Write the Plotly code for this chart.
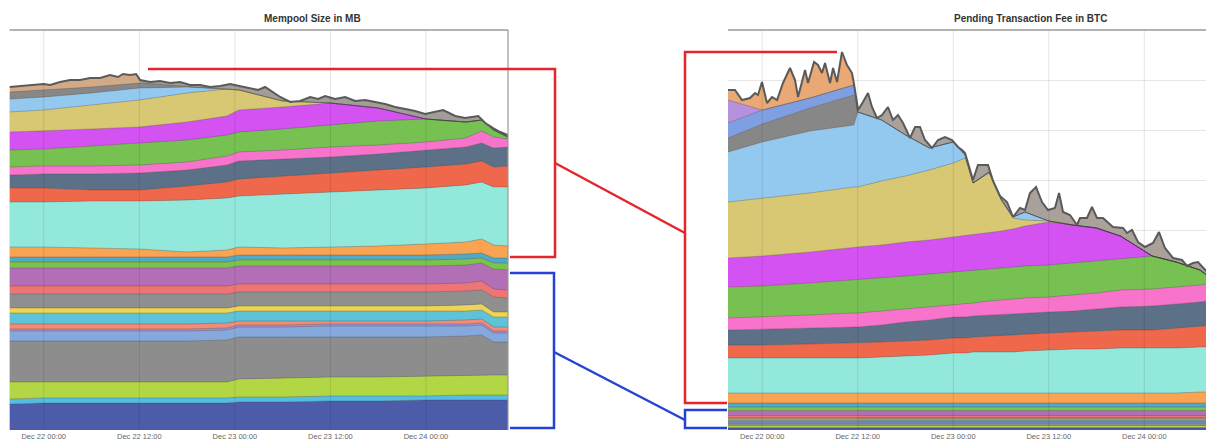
import pandas as pd
import plotly.graph_objects as go

# The page has an 8px body margin, so the figure is sized to fill the rest of the window
OFF = 8
FW, FH = 1214 - OFF, 440 - OFF
BASE = pd.Timestamp("2017-12-22 00:00")

# ---------------- axis ticks ----------------
TICK_HOURS = [0, 12, 24, 36, 48]
TICK_LABELS = ["Dec 22 00:00", "Dec 22 12:00", "Dec 23 00:00", "Dec 23 12:00", "Dec 24 00:00"]

# ---------------- Mempool size (left), layer thickness per fee band ----------------
MEM_HOURS = [-4.3, 0, 6, 12, 18, 23, 24.5, 30, 36, 42, 48, 53, 55, 56.5, 58.3]
mem_01 = [26, 27, 27, 27, 27, 27, 28, 28, 29, 29, 30, 30, 30, 30, 30]
mem_02 = [5, 5, 5, 5, 5, 5, 5, 5, 5, 5, 4, 5, 5, 5, 5]
mem_03 = [17, 16, 16, 16, 16, 16, 18, 19, 19, 19, 20, 20, 20, 20, 20]
mem_04 = [41, 41, 41, 41, 41, 42, 42, 41, 40, 40, 39, 39, 40, 33, 33]
mem_05 = [10, 10, 10, 10, 10, 10, 10, 10, 11, 11, 11, 10, 10, 9, 9]
mem_06 = [2, 2, 2, 2, 2, 2, 2, 2, 2, 2, 2, 2, 2, 2, 2]
mem_07 = [5, 5, 5, 5, 5, 5, 4, 4, 3, 3, 3, 4, 4, 4, 4]
mem_08 = [11, 11, 11, 11, 11, 10, 10, 10, 10, 10, 10, 9, 9, 10, 10]
mem_09 = [5, 5, 5, 5, 5, 5, 5, 5, 5, 5, 5, 6, 6, 5, 5]
mem_10 = [14, 14, 14, 14, 14, 14, 14, 14, 14, 14, 14, 14, 14, 15, 14]
mem_11 = [8, 8, 8, 8, 8, 8, 8, 8, 8, 8, 8, 8, 9, 8, 8]
mem_12 = [18, 18, 18, 18, 18, 18, 18, 18, 18, 18, 18, 18, 18, 20, 20]
mem_13 = [6, 6, 6, 6, 6, 6, 6, 6, 6, 6, 6, 6, 5, 6, 7]
mem_14 = [5, 5, 5, 5, 5, 5, 5, 5, 5, 5, 5, 5, 5, 5, 5]
mem_15 = [10, 10, 9, 8, 5, 7, 8, 7, 8, 9, 11, 12, 14, 13, 12]
mem_16 = [45, 45, 47, 48, 52, 52, 51, 54, 55, 56, 56, 57, 57, 58, 59]
mem_17 = [14, 14, 11, 11, 14, 16, 17, 18, 19, 20, 21, 21, 21, 20, 21]
mem_18 = [13, 14, 16, 17, 16, 17, 18, 17, 16, 16, 17, 17, 18, 19, 19]
mem_19 = [8, 8, 8, 8, 8, 9, 9, 9, 10, 9, 8, 9, 12, 11, 8]
mem_20 = [17, 17, 20, 22, 22, 21, 20, 21, 22, 24, 23, 16, 11, 7, 2]
mem_21 = [18, 18, 17, 16, 18, 19, 22, 22, 22, 13, 0, 0, 0, 0, 0]
mem_22 = [20, 21, 24, 27, 29, 27, 20, 6, 0, 0, 0, 0, 0, 0, 0]
mem_23 = [13, 13, 12, 12, 6, 0, 0, 0, 0, 0, 0, 0, 0, 0, 0]
mem_24 = [7, 7, 6, 5, 1, 0, 0, 0, 0, 0, 0, 0, 0, 0, 0]

# total (top outline) of the mempool chart
MEM_TOP_HOURS = [-4.3, -2.98, -1.34, 0, 0.79, 2.05, 3.3, 4.56, 5.82, 7.07,
                 8.33, 9.33, 9.96, 10.84, 11.6, 12.1, 13.36, 14.61, 15.87, 17.12,
                 18.38, 19.64, 20.89, 22.15, 23.4, 24.66, 25.92, 26.92, 27.8, 28.68,
                 29.69, 30.94, 32.2, 33.45, 34.46, 35.34, 36.59, 37.85, 39.11, 40.36,
                 41.62, 42.87, 44.13, 45.39, 46.64, 47.9, 49.16, 50.16, 51.67, 52.93,
                 54.56, 55.44, 56.44, 57.32, 58.3]
MEM_TOTAL = [343, 344, 345, 346, 345, 348, 350, 350, 352, 352,
             355, 353, 356, 355, 356, 350, 348, 349, 347, 348,
             345, 345, 343, 344, 346, 344, 342, 340, 343, 338,
             333, 328, 329, 333, 331, 334, 331, 333, 329, 330,
             328, 326, 323, 321, 319, 316, 318, 320, 314, 312,
             314, 307, 302, 298, 295]

# ---------------- Pending fee (right), layer thickness per fee band ----------------
FEE_HOURS = [-4.3, 0, 6, 11.5, 12, 15, 18, 21, 24, 25.5, 26.5, 28.5, 30, 31.5, 33, 36, 39, 42, 45, 49, 52, 55, 56.8]
fee_01 = [2, 2, 2, 2, 2, 2, 2, 2, 2, 2, 2, 2, 2, 2, 2, 2, 2, 2, 2, 2, 2, 2, 2]
fee_02 = [0.5, 0.5, 0.5, 0.5, 0.5, 0.5, 0.5, 0.5, 0.5, 0.5, 0.5, 0.5, 0.5, 0.5, 0.5, 0.5, 0.5, 0.5, 0.5, 0.5, 0.5, 0.5, 0.5]
fee_03 = [2, 2, 2, 2, 2, 2, 2, 2, 2, 2, 2, 2, 2, 2, 2, 2, 2, 2, 2, 2, 2, 2, 2]
fee_04 = [2.5, 2.5, 2.5, 2.5, 2.5, 2.5, 2.5, 2.5, 2.5, 2.5, 2.5, 2.5, 2.5, 2.5, 2.5, 2.5, 2.5, 2.5, 2.5, 2.5, 2.5, 2.5, 2.5]
fee_05 = [1, 1, 1, 1, 1, 1, 1, 1, 1, 1, 1, 1, 1, 1, 1, 1, 1, 1, 1, 1, 1, 1, 1]
fee_06 = [0.5, 0.5, 0.5, 0.5, 0.5, 0.5, 0.5, 0.5, 0.5, 0.5, 0.5, 0.5, 0.5, 0.5, 0.5, 0.5, 0.5, 0.5, 0.5, 0.5, 0.5, 0.5, 0.5]
fee_07 = [1, 1, 1, 1, 1, 1, 1, 1, 1, 1, 1, 1, 1, 1, 1, 1, 1, 1, 1, 1, 1, 1, 1]
fee_08 = [1, 1, 1, 1, 1, 1, 1, 1, 1, 1, 1, 1, 1, 1, 1, 1, 1, 1, 1, 1, 1, 1, 1]
fee_09 = [1, 1, 1, 1, 1, 1, 1, 1, 1, 1, 1, 1, 1, 1, 1, 1, 1, 1, 1, 1, 1, 1, 1]
fee_10 = [1, 1, 1, 1, 1, 1, 1, 1, 1, 1, 1, 1, 1, 1, 1, 1, 1, 1, 1, 1, 1, 1, 1]
fee_11 = [2, 2, 2, 2, 2, 2, 2, 2, 2, 2, 2, 2, 2, 2, 2, 2, 2, 2, 2, 2, 2, 2, 2]
fee_12 = [5, 5, 5, 5, 5, 5, 5, 5, 5, 5, 5, 5, 5, 5, 5, 5, 5, 5, 5, 5, 5, 5, 5]
fee_13 = [3.5, 3.5, 3.5, 3.5, 3.5, 3.5, 3.5, 3.5, 3.5, 3.5, 3.5, 3.5, 3.5, 3.5, 3.5, 3.5, 3.5, 3.5, 3.5, 3.5, 3.5, 3.5, 3.5]
fee_14 = [4, 4, 4, 4, 4, 4, 4, 4, 4, 4, 4, 4, 4, 4, 4, 4, 4, 4, 4, 4, 4, 4, 4]
fee_15 = [10, 10, 10, 10, 10, 10, 10, 10, 10, 10, 10, 10, 10, 10, 10, 10, 10, 10, 10, 10, 10, 11, 11]
fee_16 = [35, 35, 35, 35, 35, 36, 37, 38, 40, 40, 41, 41, 41, 41, 42, 43, 44, 44, 45, 45, 45, 45, 45]
fee_17 = [13, 13, 14, 15, 15, 15, 15, 15, 15, 15, 15, 16, 16, 17, 17, 17, 17, 18, 18, 18, 20, 21, 22]
fee_18 = [15, 16, 16, 16, 16, 17, 19, 20, 21, 21, 21, 21, 21, 21, 21, 21, 21, 22, 23, 24, 24, 24, 25]
fee_19 = [12, 12, 13, 14, 14, 14, 13, 13, 12, 13, 13, 14, 15, 15, 15, 15, 16, 16, 17, 17, 17, 17, 17]
fee_20 = [31, 31, 32, 33, 33, 33, 33, 33, 33, 33, 33, 32, 32, 32, 32, 32, 32, 32, 31, 33, 25, 15, 2]
fee_21 = [29, 30, 31, 33, 33, 33, 34, 34, 35, 35, 35, 36, 37, 38, 40, 43, 38, 33, 23, 0, 0, 0, 0]
fee_22 = [56, 58, 59, 60, 60, 64, 66, 70, 74, 78, 52, 60, 31, 11, 6, 1, 0, 0, 0, 0, 0, 0, 0]
fee_23 = [50, 56, 62, 62, 75, 61, 41, 22, 21, 3, 0, 1, 1, 1, 8, 0, 0, 0, 0, 0, 0, 0, 0]
fee_24 = [14, 18, 23, 30, 0, 0, 0, 0, 0, 0, 0, 0, 0, 0, 0, 0, 0, 0, 0, 0, 0, 0, 0]
fee_25 = [15, 14, 10, 10, 0, 0, 0, 0, 0, 0, 0, 0, 0, 0, 0, 0, 0, 0, 0, 0, 0, 0, 0]
fee_26 = [23, 0, 0, 0, 0, 0, 0, 0, 0, 0, 0, 0, 0, 0, 0, 0, 0, 0, 0, 0, 0, 0, 0]

FEE_TOP_HOURS = [-4.3, -3.42, -2.54, -1.53, -0.9, -0.53, -0.03, 0.6, 1.23, 1.86,
                 2.61, 3.49, 4.12, 4.5, 5.38, 5.75, 6.51, 7.01, 7.51, 7.89,
                 8.52, 8.9, 9.4, 10.02, 10.65, 11.28, 11.53, 12.04, 12.66, 13.29,
                 13.79, 14.42, 15.05, 15.8, 16.43, 17.06, 17.69, 18.57, 19.2, 19.82,
                 20.45, 21.33, 22.09, 22.96, 23.84, 24.6, 25.1, 25.48, 26.48, 27.11,
                 28.37, 29.0, 29.87, 30.75, 31.51, 32.39, 33.02, 33.64, 34.4, 35.15,
                 35.9, 36.78, 37.29, 37.79, 38.67, 39.55, 39.92, 40.8, 41.43, 42.06,
                 42.81, 44.07, 45.33, 45.83, 46.46, 47.21, 48.09, 49.1, 49.85, 50.6,
                 51.61, 52.74, 53.37, 54.12, 54.75, 55.63, 56.8]
FEE_TOTAL = [340, 340, 330, 332, 337, 335, 348, 327, 333, 330,
             347, 362, 350, 333, 360, 347, 368, 365, 357, 367,
             347, 362, 348, 378, 365, 357, 346, 320, 328, 337,
             323, 312, 315, 323, 310, 315, 307, 292, 303, 303,
             290, 282, 290, 293, 290, 283, 280, 277, 250, 265,
             265, 249, 234, 228, 213, 222, 220, 237, 243, 228,
             220, 222, 237, 218, 215, 205, 212, 212, 223, 212,
             212, 203, 202, 197, 200, 188, 183, 187, 198, 182,
             172, 170, 164, 167, 168, 160, 150]

# ---------------- styling ----------------
COLORS = ["#4d5ca8", "#55bde0", "#b3d645", "#8d8d8d", "#86a9dd", "#a48fd0",
          "#f08c78", "#5ec3d8", "#ecd556", "#8f8f8f", "#ee7575", "#b26fb6",
          "#7cc34e", "#50a9c7", "#f8a452", "#93e8dc", "#f0684c", "#5c7188",
          "#f874cc", "#77c152", "#d452f2", "#d9c873", "#93c8ef", "#878787",
          "#7f9fe3", "#b591de"]

MEM_LAYERS = [mem_01, mem_02, mem_03, mem_04, mem_05, mem_06, mem_07, mem_08,
              mem_09, mem_10, mem_11, mem_12, mem_13, mem_14, mem_15, mem_16,
              mem_17, mem_18, mem_19, mem_20, mem_21, mem_22, mem_23, mem_24]
FEE_LAYERS = [fee_01, fee_02, fee_03, fee_04, fee_05, fee_06, fee_07, fee_08,
              fee_09, fee_10, fee_11, fee_12, fee_13, fee_14, fee_15, fee_16,
              fee_17, fee_18, fee_19, fee_20, fee_21, fee_22, fee_23, fee_24,
              fee_25, fee_26]


def to_time(hours):
    return [BASE + pd.Timedelta(hours=h) for h in hours]


def px(x):
    # page pixel -> paper fraction
    return (x - OFF) / FW


def py(y):
    return 1 - (y - OFF) / FH


fig = go.Figure()


def add_chart(xa, ya, group, hours, layers, top_hours, total, split, band_colors):
    tx = to_time(top_hours)
    # thin top bands (mixed small fee levels) drawn behind the main layers
    fig.add_trace(go.Scatter(x=tx[:split + 1], y=total[:split + 1], mode="lines",
                             fill="tozeroy", fillcolor=band_colors[0],
                             line=dict(width=0), xaxis=xa, yaxis=ya,
                             hoverinfo="skip", showlegend=False))
    fig.add_trace(go.Scatter(x=tx[split:], y=total[split:], mode="lines",
                             fill="tozeroy", fillcolor=band_colors[1],
                             line=dict(width=0), xaxis=xa, yaxis=ya,
                             hoverinfo="skip", showlegend=False))
    t = to_time(hours)
    for i, vals in enumerate(layers):
        fig.add_trace(go.Scatter(x=t, y=vals, mode="lines", stackgroup=group,
                                 fillcolor=COLORS[i],
                                 line=dict(width=0.7, color="rgba(45,45,45,0.35)"),
                                 xaxis=xa, yaxis=ya, name=f"band {i + 1}",
                                 showlegend=False))
    fig.add_trace(go.Scatter(x=tx, y=total, mode="lines",
                             line=dict(color="#5a5a5a", width=2),
                             xaxis=xa, yaxis=ya, showlegend=False, name="total"))


add_chart("x", "y", "mem", MEM_HOURS, MEM_LAYERS, MEM_TOP_HOURS, MEM_TOTAL, 15,
          ["#d3aa88", "#a39d98"])
add_chart("x2", "y2", "fee", FEE_HOURS, FEE_LAYERS, FEE_TOP_HOURS, FEE_TOTAL, 27,
          ["#e9a874", "#aaa29a"])

tick_times = to_time(TICK_HOURS)
tickfont = dict(size=7.5, color="#666", family="Liberation Sans, Arial")
x_common = dict(type="date", tickvals=tick_times, ticktext=TICK_LABELS,
                showgrid=False, zeroline=False, showline=False, ticks="",
                tickfont=tickfont, fixedrange=True)
y_dom = [py(430), py(30)]

fig.update_layout(
    width=FW, height=FH,
    margin=dict(l=0, r=0, t=0, b=0),
    paper_bgcolor="white", plot_bgcolor="white",
    showlegend=False,
    xaxis=dict(domain=[px(9.5), px(508)],
               range=[str(BASE + pd.Timedelta(hours=-4.3)), str(BASE + pd.Timedelta(hours=58.3))],
               anchor="y", **x_common),
    yaxis=dict(domain=y_dom, range=[0, 400], showticklabels=False, showgrid=False,
               zeroline=False, showline=False, anchor="x", fixedrange=True),
    xaxis2=dict(domain=[px(728), 1.0],
                range=[str(BASE + pd.Timedelta(hours=-4.3)), str(BASE + pd.Timedelta(hours=56.76))],
                anchor="y2", **x_common),
    yaxis2=dict(domain=y_dom, range=[0, 400], showticklabels=False, showgrid=True,
                gridcolor="#e6e6e6", gridwidth=1, dtick=50,
                zeroline=False, showline=False, anchor="x2", fixedrange=True),
)

shapes = []
# vertical grid lines, visible faintly through the areas
for xa in ("x", "x2"):
    for tt in tick_times:
        shapes.append(dict(type="line", xref=xa, yref="paper", x0=tt, x1=tt,
                           y0=py(430), y1=py(30), layer="above",
                           line=dict(color="rgba(0,0,0,0.10)", width=1)))
# frame lines
frame = "#9a9a9a"
shapes.append(dict(type="line", xref="paper", yref="paper", x0=px(9.5), x1=px(508),
                   y0=py(30), y1=py(30), line=dict(color=frame, width=1.6), layer="above"))
shapes.append(dict(type="line", xref="paper", yref="paper", x0=px(508), x1=px(508),
                   y0=py(30), y1=py(430), line=dict(color=frame, width=1.2), layer="above"))
shapes.append(dict(type="line", xref="paper", yref="paper", x0=px(728), x1=1.0,
                   y0=py(30), y1=py(30), line=dict(color=frame, width=1.6), layer="above"))


def path(points):
    return "M " + " L ".join(f"{px(x):.5f},{py(y):.5f}" for x, y in points)


RED, BLUE = "#e4262c", "#2443d6"
brackets = [
    (RED, [(148, 69), (555, 69), (555, 257), (510, 257)]),
    (RED, [(555, 163), (685, 233)]),
    (RED, [(837, 52), (685, 52), (685, 403), (727, 403)]),
    (BLUE, [(510, 273), (554, 273), (554, 428), (510, 428)]),
    (BLUE, [(554, 352), (685, 420)]),
    (BLUE, [(727, 410), (685, 410), (685, 428), (727, 428)]),
]
for color, pts in brackets:
    shapes.append(dict(type="path", xref="paper", yref="paper", path=path(pts),
                       line=dict(color=color, width=2.5), layer="above"))

fig.update_layout(shapes=shapes)

title_font = dict(size=10, color="#333", family="Liberation Sans, Arial")
fig.add_annotation(x=px(312), y=py(19), xref="paper", yref="paper", showarrow=False,
                   xanchor="center", yanchor="middle",
                   text="<b>Mempool Size in MB</b>", font=title_font)
fig.add_annotation(x=px(1030), y=py(19), xref="paper", yref="paper", showarrow=False,
                   xanchor="center", yanchor="middle",
                   text="<b>Pending Transaction Fee in BTC</b>", font=title_font)

fig.write_html("out.html")
